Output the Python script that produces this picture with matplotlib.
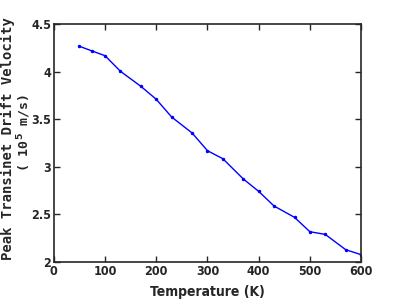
import matplotlib
matplotlib.use("Agg")
import matplotlib.pyplot as plt

# Temperature (K) and peak transient drift velocity (1e5 m/s)
temperature = [50, 75, 100, 130, 170, 200, 230, 270, 300, 330, 370, 400, 430, 470, 500, 530, 570, 600]
velocity = [4.266, 4.216, 4.167, 4.003, 3.845, 3.709, 3.523, 3.355, 3.169, 3.085,
            2.872, 2.742, 2.588, 2.469, 2.318, 2.290, 2.129, 2.077]

xticks = [0, 100, 200, 300, 400, 500, 600]
yticks = [2, 2.5, 3, 3.5, 4, 4.5]
ytick_labels = ["2", "2.5", "3", "3.5", "4", "4.5"]

fig = plt.figure(figsize=(3.99, 3.07), dpi=100)
ax = fig.add_axes([0.135, 0.1466, 0.770, 0.7752])

ax.plot(temperature, velocity, color="blue", linewidth=1.0, marker=".", markersize=3)

ax.set_xlim(0, 600)
ax.set_ylim(2, 4.5)
ax.set_xticks(xticks)
ax.set_yticks(yticks)
ax.set_yticklabels(ytick_labels)

for lab in ax.get_xticklabels() + ax.get_yticklabels():
    lab.set_fontfamily("DejaVu Sans")
    lab.set_fontstretch("condensed")
    lab.set_fontweight("bold")
    lab.set_fontsize(9)
    lab.set_color("#262626")

ax.tick_params(direction="in", top=True, right=True, length=4, width=1, colors="#262626", pad=2)
for s in ax.spines.values():
    s.set_linewidth(1.2)
    s.set_color("#262626")

ax.set_xlabel("Temperature (K)", fontfamily="DejaVu Sans", fontstretch="condensed",
              fontweight="bold", fontsize=10, color="#262626", labelpad=5)

# two-line y label, monospaced to mimic the wide letter spacing
fig.text(0.019, 0.549, "Peak Transinet Drift Velocity", rotation=90, ha="center", va="center",
         fontfamily="DejaVu Sans Mono", fontweight="bold", fontsize=10, color="#262626")
fig.text(0.060, 0.568, "( 10$^{\\mathbf{5}}$ m/s)", rotation=90, ha="center", va="center",
         fontfamily="DejaVu Sans Mono", fontweight="bold", fontsize=9.5, color="#262626")

fig.savefig("out.png", dpi=100)
